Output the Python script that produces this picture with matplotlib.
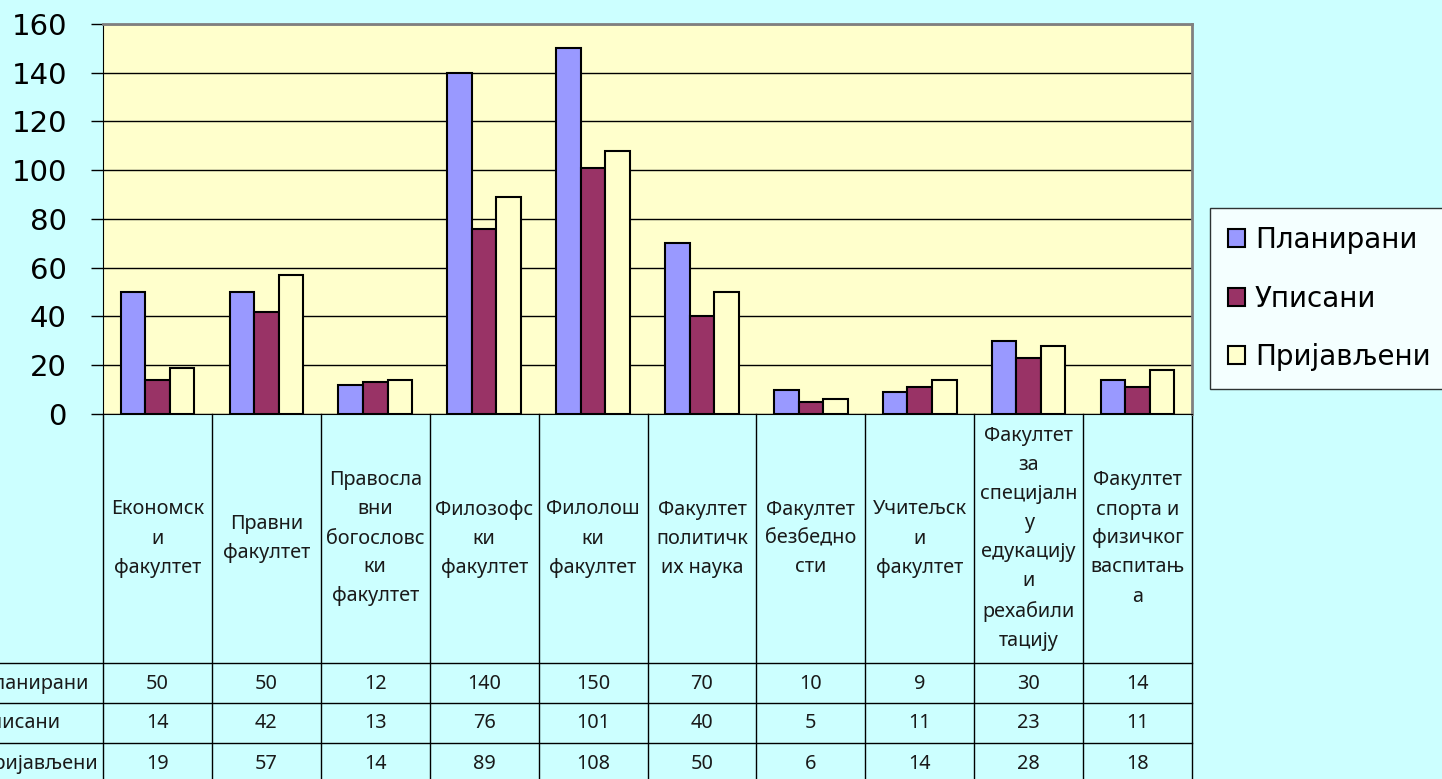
import matplotlib.pyplot as plt
import numpy as np
from matplotlib.patches import Patch
from matplotlib.transforms import blended_transform_factory

categories = [
    "Економск\nи\nфакултет",
    "Правни\nфакултет",
    "Правосла\nвни\nбогословс\nки\nфакултет",
    "Филозофс\nки\nфакултет",
    "Филолош\nки\nфакултет",
    "Факултет\nполитичк\nих наука",
    "Факултет\nбезбедно\nсти",
    "Учитељск\nи\nфакултет",
    "Факултет\nза\nспецијалн\nу\nедукацију\nи\nрехабили\nтацију",
    "Факултет\nспорта и\nфизичког\nваспитањ\nа",
]
series_names = ["Планирани", "Уписани", "Пријављени"]
planirani = [50, 50, 12, 140, 150, 70, 10, 9, 30, 14]
upisani = [14, 42, 13, 76, 101, 40, 5, 11, 23, 11]
prijavljeni = [19, 57, 14, 89, 108, 50, 6, 14, 28, 18]
colors = ["#9999FF", "#993366", "#FFFFCC"]

W, H = 1442, 779
fig = plt.figure(figsize=(W / 100, H / 100), dpi=100, facecolor="#CCFFFF")
ax = fig.add_axes([103 / W, 1 - 414 / H, (1192 - 103) / W, (414 - 24) / H])
ax.set_facecolor("#FFFFCC")

x = np.arange(len(categories))
width = 0.225
values = [planirani, upisani, prijavljeni]
for i, (vals, name, col) in enumerate(zip(values, series_names, colors)):
    ax.bar(x + (i - 1) * width, vals, width, color=col, edgecolor="black",
           linewidth=1.5, label=name, zorder=3)

ax.set_xlim(-0.5, len(categories) - 0.5)
ax.set_ylim(0, 160)
ax.set_yticks(range(0, 161, 20))
ax.set_xticks([])
ax.yaxis.grid(True, color="black", linewidth=1)
ax.set_axisbelow(True)
ax.tick_params(axis="y", direction="out", length=9, width=1, pad=17,
               labelsize=21, colors="black")
for lab in ax.get_yticklabels():
    lab.set_fontfamily("DejaVu Sans")

for s in ["top", "right"]:
    ax.spines[s].set_color("#808080")
    ax.spines[s].set_linewidth(2)
ax.spines["left"].set_color("black")
ax.spines["bottom"].set_color("black")

# data table below the plot
tr = blended_transform_factory(ax.transData, fig.transFigure)
def fy(px):
    return 1 - px / H

row_lines = [663, 703, 743]
row_centers = [684, 723, 764]
for k in range(len(categories) + 1):
    ax.plot([k - 0.5, k - 0.5], [fy(414), fy(H + 5)], color="black", lw=1,
            transform=tr, clip_on=False)
for y in row_lines:
    fig.add_artist(plt.Line2D([0, 1192 / W], [fy(y), fy(y)], color="black", lw=1))

tfont = dict(family="Noto Sans", fontsize=14.3, color="#1a1a1a")
for k, cat in enumerate(categories):
    ax.text(k, fy(538.5), cat, transform=tr, ha="center", va="center",
            linespacing=1.6, **tfont)
    for vals, yc in zip(values, row_centers):
        ax.text(k, fy(yc), str(vals[k]), transform=tr, ha="center",
                va="center", **tfont)
# row labels run off the left edge, as in the original
for name, yc in zip(series_names, row_centers):
    fig.text(-21 / W, fy(yc), name, ha="left", va="center", **tfont)

leg = fig.legend(
    handles=[Patch(facecolor=c, edgecolor="black", linewidth=1.5) for c in colors],
    labels=series_names, loc="upper left", bbox_to_anchor=(1210 / W, fy(208)),
    fontsize=20, frameon=True, fancybox=False, borderaxespad=0,
    handlelength=0.62, handleheight=0.62, handletextpad=0.35,
    labelspacing=1.1, borderpad=0.65,
)
leg.get_frame().set_edgecolor("black")
leg.get_frame().set_linewidth(1)
leg.get_frame().set_facecolor("white")

fig.savefig("out.png", dpi=100, facecolor=fig.get_facecolor())
